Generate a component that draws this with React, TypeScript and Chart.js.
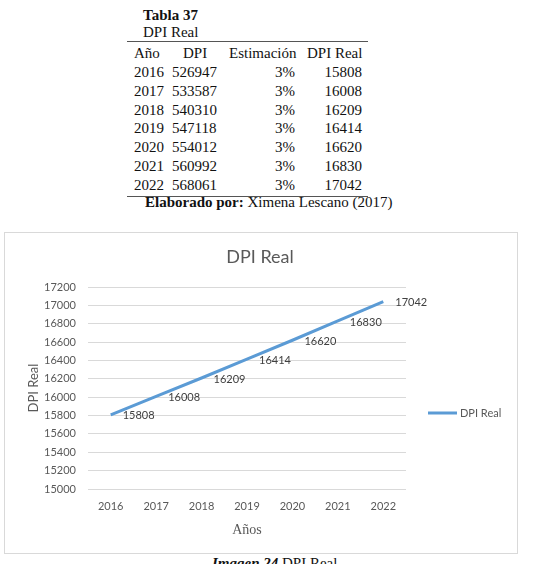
import React, { useEffect, useRef } from "react";
import { Chart, registerables } from "chart.js";

Chart.register(...registerables);

const years = ["2016", "2017", "2018", "2019", "2020", "2021", "2022"];
const dpi = ["526947", "533587", "540310", "547118", "554012", "560992", "568061"];
const estimacion = ["3%", "3%", "3%", "3%", "3%", "3%", "3%"];
const dpiReal = [15808, 16008, 16209, 16414, 16620, 16830, 17042];
const yMin = 15000;
const yMax = 17200;
const yStep = 200;

const chartTitle = "DPI Real";
const seriesName = "DPI Real";
const xTitle = "Años";
const yTitle = "DPI Real";

const SANS = "Lato, 'Open Sans', sans-serif";
const SERIF = "'Liberation Serif', 'Times New Roman', serif";
const LINE = "#5B9BD5";
const GRAY = "#595959";

const overlayPlugin = {
  id: "overlay",
  afterDatasetsDraw(chart: any) {
    const ctx = chart.ctx;
    const area = chart.chartArea;
    const meta = chart.getDatasetMeta(0);
    ctx.save();
    // data labels
    ctx.font = `11px ${SANS}`;
    ctx.fillStyle = "#404040";
    ctx.textAlign = "left";
    ctx.textBaseline = "middle";
    meta.data.forEach((pt: any, i: number) => {
      ctx.fillText(String(chart.data.datasets[0].data[i]), pt.x + 12, pt.y + 1);
    });
    // title
    ctx.font = `18px ${SANS}`;
    ctx.fillStyle = GRAY;
    ctx.textAlign = "center";
    ctx.fillText(chartTitle, 255, 24);
    // x title
    ctx.font = `14px ${SERIF}`;
    ctx.fillText(xTitle, (area.left + area.right) / 2, 297);
    // y title
    ctx.save();
    ctx.translate(29, (area.top + area.bottom) / 2);
    ctx.rotate(-Math.PI / 2);
    ctx.font = `13px ${SANS}`;
    ctx.fillText(yTitle, 0, 0);
    ctx.restore();
    // legend
    ctx.strokeStyle = LINE;
    ctx.lineWidth = 3;
    ctx.beginPath();
    ctx.moveTo(423, 180);
    ctx.lineTo(452, 180);
    ctx.stroke();
    ctx.font = `11px ${SANS}`;
    ctx.fillStyle = GRAY;
    ctx.textAlign = "left";
    ctx.fillText(seriesName, 455, 180);
    ctx.restore();
  },
};

function ChartBox() {
  const ref = useRef<HTMLCanvasElement | null>(null);
  useEffect(() => {
    if (!ref.current) return;
    const chart = new Chart(ref.current, {
      type: "line",
      data: {
        labels: years,
        datasets: [
          {
            label: seriesName,
            data: dpiReal,
            borderColor: LINE,
            backgroundColor: LINE,
            borderWidth: 3,
            pointRadius: 0,
            tension: 0,
          },
        ],
      },
      options: {
        animation: false,
        responsive: false,
        maintainAspectRatio: false,
        layout: { padding: { left: 0, top: 54, right: 111, bottom: 0 } },
        plugins: { legend: { display: false }, title: { display: false }, tooltip: { enabled: false } },
        scales: {
          x: {
            offset: true,
            grid: { display: false, drawTicks: false },
            border: { display: false },
            ticks: { color: GRAY, font: { family: SANS, size: 11 }, padding: 11, maxRotation: 0 },
            afterFit(scale: any) {
              scale.height = 64;
            },
          },
          y: {
            min: yMin,
            max: yMax,
            grid: { color: "#d9d9d9", lineWidth: 1, drawTicks: false },
            border: { display: false },
            ticks: {
              stepSize: yStep,
              color: GRAY,
              font: { family: SANS, size: 11 },
              padding: 12,
              callback: (v: any) => String(v),
            },
            afterFit(scale: any) {
              scale.width = 83;
            },
          },
        },
      },
      plugins: [overlayPlugin],
    });
    return () => chart.destroy();
  }, []);
  return <canvas ref={ref} width={512} height={320} style={{ display: "block", width: 512, height: 320 }} />;
}

const cellFont: React.CSSProperties = {
  position: "absolute",
  fontFamily: SERIF,
  fontSize: 15,
  lineHeight: "18px",
  color: "#111",
  whiteSpace: "nowrap",
};

function Cell({ x, y, text, right, bold }: { x: number; y: number; text: string; right?: boolean; bold?: boolean }) {
  const style: React.CSSProperties = { ...cellFont, top: y - 9, fontWeight: bold ? "bold" : "normal" };
  if (right) {
    style.right = 550 - x;
  } else {
    style.left = x;
  }
  return <div style={style}>{text}</div>;
}

export default function App() {
  const rowY = (i: number) => 72 + i * 18.8;
  return (
    <div style={{ position: "absolute", left: 0, top: 0, width: 550, height: 564, overflow: "hidden", background: "#fff" }}>
      <Cell x={143} y={15} text="Tabla 37" bold />
      <Cell x={143} y={32} text="DPI Real" />
      <div style={{ position: "absolute", left: 127, top: 41, width: 241, height: 1, background: "#555" }} />
      <Cell x={134} y={53} text="Año" />
      <Cell x={183} y={53} text="DPI" />
      <Cell x={229} y={53} text="Estimación" />
      <Cell x={307} y={53} text="DPI Real" />
      {years.map((yr, i) => (
        <React.Fragment key={yr}>
          <Cell x={134} y={rowY(i)} text={yr} />
          <Cell x={172} y={rowY(i)} text={dpi[i]} />
          <Cell x={295} y={rowY(i)} text={estimacion[i]} right />
          <Cell x={362} y={rowY(i)} text={String(dpiReal[i])} right />
        </React.Fragment>
      ))}
      <div style={{ position: "absolute", left: 127, top: 196, width: 241, height: 1, background: "#555" }} />
      <div style={{ ...cellFont, left: 145, top: 193 }}>
        <b>Elaborado por:</b> Ximena Lescano (2017)
      </div>
      <div
        style={{
          position: "absolute",
          left: 4,
          top: 232,
          width: 514,
          height: 322,
          boxSizing: "border-box",
          border: "1px solid #d9d9d9",
          background: "#fff",
        }}
      >
        <ChartBox />
      </div>
      <div style={{ ...cellFont, left: 212, top: 554 }}>
        <b><i>Imagen 24</i></b> DPI Real
      </div>
    </div>
  );
}
